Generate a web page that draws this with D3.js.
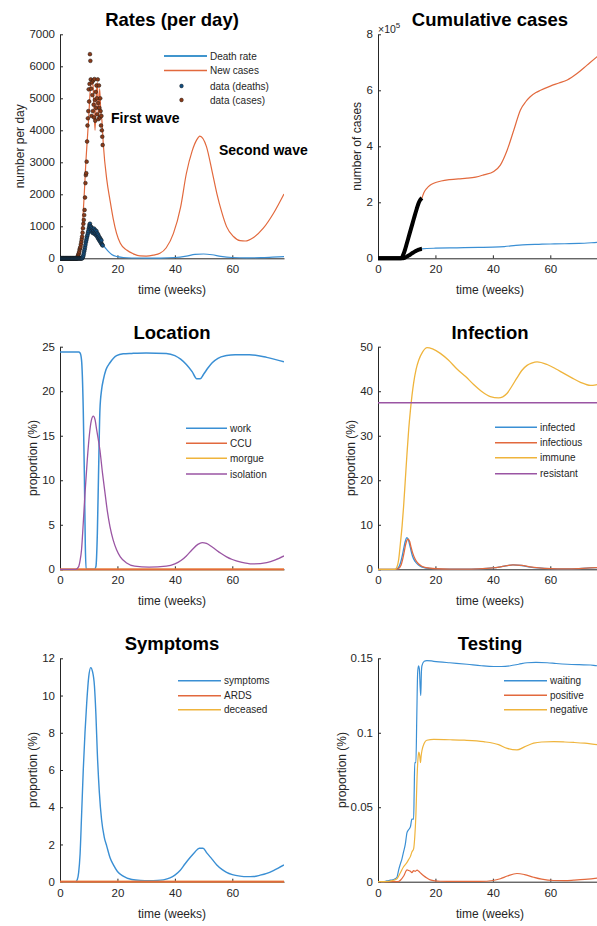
<!DOCTYPE html>
<html>
<head>
<meta charset="utf-8">
<script src="https://cdn.jsdelivr.net/npm/d3@7"></script>
<style>
  body { margin: 0; background: #fff; }
  text { font-family: "Liberation Sans", Arial, Helvetica, sans-serif; }
</style>
</head>
<body>
<script>
// ---- data (x in weeks) ----
var xTicks = [0, 20, 40, 60];

// Rates (per day)
var caseWeeks = [0, 6, 6.5, 7, 7.5, 8, 8.5, 9, 9.5, 10, 10.5, 11, 11.5, 12.2, 12.6, 13, 13.4, 13.8, 14.2, 14.6, 15.1, 16.3, 17.4, 18.5, 19.7, 21, 23.2, 25.5, 27.9, 30, 32.5, 34.8, 37, 39.5, 42, 44, 46, 47.6, 48.7, 51, 53, 54.6, 56.3, 58, 60.4, 62.7, 64.5, 67.4, 70.8, 74.3, 78];
var caseRate  = [0, 0, 80, 300, 700, 1300, 2100, 3000, 3700, 4400, 5200, 5500, 5400, 4000, 5000, 5500, 4400, 5300, 4600, 4300, 3540, 2450, 1820, 1250, 780, 470, 260, 140, 73, 70, 100, 156, 330, 780, 1600, 2650, 3350, 3700, 3820, 3490, 2700, 2030, 1450, 990, 680, 550, 540, 650, 940, 1400, 2010];
var deathWeeks = [0, 7.5, 8, 8.5, 9, 9.5, 10, 10.5, 11, 11.5, 12, 12.5, 13, 13.5, 14, 14.5, 15, 16, 17, 18, 20, 22, 25, 30, 35, 40, 44, 47, 50, 53, 56, 60, 65, 70, 74, 78];
var deathRate  = [0, 0, 100, 300, 500, 650, 750, 800, 820, 780, 800, 720, 760, 650, 600, 500, 420, 300, 200, 120, 50, 25, 10, 5, 8, 25, 70, 120, 135, 110, 60, 25, 15, 20, 35, 52];
// daily data points, day 0 .. 104
var dataDeaths = [0,0,0,0,0,0,0,0,0,0,0,0,0,0,0,0,0,0,0,0,0,0,0,0,0,0,0,0,0,0,0,0,0,0,0,0,0,0,0,0,0,0,0,0,0,0,0,0,0,0,0,0,0,0,0,
  20, 50, 90, 150, 220, 280, 350, 420, 500, 560, 620, 680, 730, 790, 850, 920, 980, 1050, 1080,
  1000, 920, 980, 860, 940, 800, 900, 850, 780, 930, 820, 760, 880, 790, 720, 850, 700, 780, 640, 740, 600, 680, 560, 640, 520, 600, 480, 560, 440, 420, 400];
var dataCases = [0,0,0,0,0,0,0,0,0,0,0,0,0,0,0,0,0,0,0,0,0,0,0,0,0,0,0,0,0,0,0,0,0,0,0,0,0,0,0,0,0,0,0,
  50, 80, 120, 160, 210, 280, 320, 360, 440, 520, 600, 680, 800, 940, 1080, 1200, 1350, 1510, 1900, 2350, 2600, 2660, 3020, 3650, 4150, 4375,
  4600, 5280, 4900, 5450, 6380, 6170, 5590, 5300, 4450, 5500, 5100, 4600, 5560, 4800, 4400, 5600, 4950, 4300, 5200, 4700, 5400, 5000, 4500, 5590, 4850, 4350, 5400, 4700, 4400, 5000, 4600, 4150, 4450, 4000, 3800, 3540];

// Cumulative cases (x 10^5)
var cumCaseWeeks = [15.3, 16, 17, 18, 19.4, 22, 25, 28, 31, 34, 36.8, 40.3, 42.6, 45, 47.3, 49.6, 51.5, 53, 55, 56.6, 60, 63, 65.9, 69.3, 72.8, 76.3, 78];
var cumCases     = [2.15, 2.35, 2.5, 2.6, 2.68, 2.76, 2.81, 2.84, 2.86, 2.9, 2.98, 3.1, 3.33, 3.87, 4.58, 5.3, 5.6, 5.77, 5.92, 6.0, 6.15, 6.26, 6.37, 6.6, 6.9, 7.2, 7.35];
var cumDeathWeeks = [15.3, 17, 20, 25, 30, 35, 40, 44, 48, 52, 56, 60, 65, 70, 76.4, 78];
var cumDeaths     = [0.34, 0.35, 0.36, 0.37, 0.38, 0.39, 0.40, 0.42, 0.46, 0.49, 0.5, 0.51, 0.52, 0.53, 0.57, 0.58];
var cumCaseDataWeeks = [0, 8, 8.5, 9, 9.5, 10, 10.5, 11, 11.5, 12, 12.5, 13, 13.5, 14, 14.5, 15, 15.3];
var cumCaseData      = [0, 0, 0.06, 0.18, 0.34, 0.52, 0.7, 0.88, 1.06, 1.24, 1.42, 1.6, 1.77, 1.93, 2.05, 2.12, 2.15];
var cumDeathDataWeeks = [0, 8.5, 9, 9.5, 10, 10.5, 11, 11.5, 12, 12.5, 13, 13.5, 14, 14.5, 15, 15.3];
var cumDeathData      = [0, 0, 0.01, 0.03, 0.06, 0.09, 0.12, 0.155, 0.19, 0.22, 0.25, 0.28, 0.3, 0.32, 0.335, 0.34];

// Location (%)
var workWeeks = [0, 6.5, 7, 7.5, 8.1, 8.5, 8.8, 9.1, 12, 12.5, 13, 13.4, 13.9, 14.5, 15.1, 16, 17.4, 19.7, 22, 25, 30, 37, 40, 42, 44, 46, 47.6, 48.8, 50, 51.5, 53, 55, 58, 61, 66, 72, 78];
var work      = [24.4, 24.4, 24.3, 23.5, 17.9, 10.4, 2.9, 0, 0, 0.3, 4, 10.4, 17.9, 20.2, 21.3, 22.4, 23.2, 24, 24.2, 24.25, 24.3, 24.25, 24.0, 23.6, 23.0, 22.2, 21.4, 21.4, 21.9, 22.6, 23.2, 23.7, 24.0, 24.1, 24.1, 23.8, 23.3];
var ccuWeeks = [0, 78];
var ccu      = [0, 0];
var morgueWeeks = [0, 78];
var morgue      = [0, 0];
var isoWeeks = [0, 5.5, 6.5, 7, 7.5, 8.1, 8.7, 9.5, 10.2, 10.9, 11.6, 12.2, 12.8, 13.9, 14.8, 15.7, 16.5, 17.4, 18.5, 19.7, 21, 23.2, 26, 31, 37, 40, 42, 44, 46, 48, 49.5, 51, 53, 56, 58, 60, 63, 67, 72, 75, 78];
var iso      = [0, 0, 0.3, 1, 2.2, 5.2, 8.5, 12.3, 15, 16.7, 17.2, 16.8, 15.6, 13.4, 10.8, 8.5, 6.5, 4.8, 3.3, 2.2, 1.4, 0.7, 0.35, 0.25, 0.35, 0.6, 0.95, 1.5, 2.2, 2.8, 3.0, 2.9, 2.5, 1.8, 1.4, 1.1, 0.8, 0.6, 0.75, 1.05, 1.5];

// Infection (%)
var infWeeks = [0, 6, 7, 8, 8.5, 9, 9.5, 10, 10.5, 11, 11.5, 12, 13, 14, 15, 16, 18, 20, 25, 30, 35, 40, 44, 47, 50, 53, 56, 60, 65, 70, 74, 78];
var infected   = [0, 0, 0.3, 1.8, 3.2, 4.8, 6.3, 7.1, 6.8, 5.6, 4.2, 3.0, 1.7, 1.0, 0.6, 0.4, 0.2, 0.1, 0.05, 0.05, 0.1, 0.3, 0.7, 1.0, 0.85, 0.5, 0.3, 0.15, 0.1, 0.15, 0.3, 0.45];
var infectious = [0, 0, 0.1, 0.9, 2.0, 3.5, 5.2, 6.4, 6.8, 6.3, 5.0, 3.8, 2.2, 1.3, 0.8, 0.5, 0.25, 0.12, 0.05, 0.05, 0.1, 0.3, 0.7, 1.0, 0.9, 0.55, 0.33, 0.17, 0.1, 0.15, 0.3, 0.45];
var immuneWeeks = [0, 6, 6.6, 7.2, 7.8, 8.4, 8.9, 9.5, 10.1, 10.7, 11.3, 12.4, 13.3, 14.2, 15.5, 17.1, 19, 21.7, 24.5, 27.5, 30.5, 33.3, 36, 39.1, 42, 44.9, 46.5, 48.4, 50, 51.9, 53.5, 55.4, 58.9, 62, 64.7, 67.5, 70.5, 74, 76.4, 78];
var immune      = [0, 0, 0.5, 2.2, 5.8, 9.8, 14, 20, 26, 31.5, 35.8, 41.8, 45, 47, 48.8, 49.8, 49.5, 48.5, 47, 45, 43.3, 41.5, 40, 38.8, 38.5, 39.5, 41, 43, 44.6, 45.8, 46.3, 46.6, 46, 45, 44, 43, 42, 41.3, 41.5, 41.7];
var resistantWeeks = [0, 78];
var resistant      = [37.4, 37.4];

// Symptoms (%)
var sympWeeks = [0, 5.5, 6, 6.5, 7, 7.5, 8.1, 8.7, 9.3, 10, 10.7, 11.3, 12, 12.5, 13, 13.7, 14.5, 15.4, 16.3, 17.4, 18.6, 20, 22, 25, 28, 31, 34, 36, 38.3, 40, 41.8, 43.5, 45.3, 47, 48.5, 49.8, 51.1, 53, 54.6, 56.5, 58, 60, 62.7, 65, 67.5, 69.7, 72, 74.3, 76, 78];
var symptoms  = [0, 0, 0.1, 0.5, 1.5, 3.5, 6.0, 8.0, 9.6, 11, 11.5, 11.3, 10.5, 9.0, 6.9, 4.8, 3.3, 2.4, 1.9, 1.3, 0.9, 0.55, 0.3, 0.12, 0.07, 0.06, 0.07, 0.1, 0.2, 0.35, 0.6, 0.95, 1.3, 1.6, 1.8, 1.8, 1.55, 1.2, 0.9, 0.65, 0.5, 0.38, 0.3, 0.27, 0.28, 0.35, 0.45, 0.6, 0.73, 0.9];
var ardsWeeks = [0, 78];
var ards      = [0, 0];
var deceasedWeeks = [0, 78];
var deceased      = [0, 0];

// Testing (%)
var waitWeeks = [0, 2, 3, 4.3, 5.5, 6.6, 7.2, 7.8, 8.3, 8.9, 9.5, 10.1, 10.7, 11.3, 11.8, 12.4, 12.6, 12.8, 13.2, 13.5, 13.8, 14.1, 14.4, 14.7, 14.9, 15.1, 15.3, 16.1, 17, 19.4, 25, 31, 36, 40.3, 43, 46.1, 49, 51.9, 55, 58.9, 62, 65.9, 70, 74, 76.4, 78];
var waiting   = [0, 0, 0.0005, 0.001, 0.0015, 0.003, 0.008, 0.012, 0.015, 0.02, 0.025, 0.033, 0.035, 0.037, 0.042, 0.042, 0.06, 0.08, 0.08, 0.11, 0.14, 0.145, 0.143, 0.13, 0.125, 0.14, 0.145, 0.148, 0.1485, 0.148, 0.147, 0.146, 0.145, 0.1445, 0.1445, 0.145, 0.146, 0.147, 0.1472, 0.147, 0.1465, 0.146, 0.1457, 0.1455, 0.145, 0.145];
var posWeeks = [0, 7, 7.8, 9, 10.1, 10.7, 11.3, 11.8, 12.4, 13, 13.6, 14.2, 15, 15.9, 17, 18.2, 20, 21.7, 30, 35.7, 40, 42.6, 45, 48.4, 51, 54.2, 57, 61.2, 65, 68.2, 72, 76.4, 78];
var positive = [0, 0, 0.001, 0.004, 0.008, 0.0075, 0.007, 0.006, 0.0075, 0.007, 0.0078, 0.007, 0.0055, 0.004, 0.0025, 0.0012, 0.0005, 0.0003, 0.0002, 0.0002, 0.0008, 0.002, 0.0038, 0.0055, 0.0048, 0.003, 0.0017, 0.0008, 0.0007, 0.001, 0.0015, 0.0025, 0.003];
var negWeeks = [0, 2, 5.5, 6.6, 7.8, 8.9, 10.1, 10.7, 11.3, 11.8, 12.4, 12.8, 13.2, 13.6, 13.9, 14.2, 14.5, 14.8, 15.0, 15.3, 16.1, 17, 19.4, 25.2, 30, 36.8, 42, 45, 48.4, 51, 54.2, 57, 61.2, 65, 68.2, 72, 76.4, 78];
var negative = [0, 0, 0.001, 0.002, 0.006, 0.01, 0.013, 0.015, 0.017, 0.02, 0.022, 0.03, 0.045, 0.07, 0.082, 0.087, 0.085, 0.08, 0.084, 0.088, 0.093, 0.095, 0.0955, 0.0953, 0.095, 0.094, 0.092, 0.0895, 0.0885, 0.0905, 0.093, 0.0938, 0.094, 0.0938, 0.0935, 0.093, 0.092, 0.0918];

var blue = "#3a8fd4", orange = "#e2693d", yellow = "#efb43c", purple = "#9a55a3";

var svg = d3.select("body").append("svg").attr("width", 597).attr("height", 926);
var axisColor = "#262626";

var cols = [[60, 284], [378, 602]];
var rows = [[34.3, 258.3], [346.7, 569.3], [658.3, 881.7]];

function panel(c, r, o) {
  var x = d3.scaleLinear().domain([0, 78]).range(cols[c]);
  var y = d3.scaleLinear().domain([0, o.ymax]).range([rows[r][1], rows[r][0]]);
  var g = svg.append("g");
  var id = "clip" + c + r;
  svg.append("clipPath").attr("id", id).append("rect")
    .attr("x", cols[c][0]).attr("y", rows[r][0] - 4)
    .attr("width", cols[c][1] - cols[c][0]).attr("height", rows[r][1] - rows[r][0] + 8);

  var ax = g.append("g").attr("transform", "translate(0," + rows[r][1] + ")")
    .call(d3.axisBottom(x).tickValues(xTicks).tickSize(-3).tickSizeOuter(0).tickPadding(7).tickFormat(d3.format("d")));
  var ay = g.append("g").attr("transform", "translate(" + cols[c][0] + ",0)")
    .call(d3.axisLeft(y).tickValues(o.yticks).tickSize(-3).tickSizeOuter(0).tickPadding(5).tickFormat(o.fmt || function(d) { return d; }));
  [ax, ay].forEach(function(a) {
    a.select(".domain").attr("stroke", axisColor);
    a.selectAll(".tick line").attr("stroke", axisColor);
    a.selectAll(".tick text").attr("fill", axisColor).style("font-size", "11.5px").style("font-family", '"Liberation Sans", Arial, sans-serif');
  });

  var cx = (cols[c][0] + cols[c][1]) / 2;
  g.append("text").attr("x", cx).attr("y", rows[r][0] - 8).attr("text-anchor", "middle")
    .style("font-size", "18.5px").style("font-weight", "bold").attr("fill", "#000").text(o.title);
  g.append("text").attr("x", cx).attr("y", rows[r][1] + 36).attr("text-anchor", "middle")
    .style("font-size", "12px").attr("fill", axisColor).text("time (weeks)");
  g.append("text").attr("transform", "translate(" + o.ylabX + "," + ((rows[r][0] + rows[r][1]) / 2) + ") rotate(-90)")
    .attr("text-anchor", "middle").attr("dy", "0.35em")
    .style("font-size", "12px").attr("fill", axisColor).text(o.ylabel);

  var plot = svg.append("g").attr("clip-path", "url(#" + id + ")");
  return { x: x, y: y, g: g, plot: plot };
}

function line(p, xs, ys, color, w) {
  var pts = xs.map(function(d, i) { return [d, ys[i]]; });
  p.plot.append("path").datum(pts)
    .attr("fill", "none").attr("stroke", color).attr("stroke-width", w || 1.3)
    .attr("stroke-linejoin", "round")
    .attr("d", d3.line().x(function(d) { return p.x(d[0]); }).y(function(d) { return p.y(d[1]); }).curve(d3.curveMonotoneX));
}

function legend(x0, x1, ys, items) {
  items.forEach(function(it, i) {
    if (it.marker) {
      svg.append("circle").attr("cx", (x0 + x1) / 2 - 4).attr("cy", ys[i]).attr("r", 1.9)
        .attr("fill", it.color).attr("stroke", "#111").attr("stroke-width", 0.4);
    } else {
      svg.append("line").attr("x1", x0).attr("x2", x1).attr("y1", ys[i]).attr("y2", ys[i])
        .attr("stroke", it.color).attr("stroke-width", 1.5);
    }
    svg.append("text").attr("x", x1 + 3).attr("y", ys[i]).attr("dy", "0.35em")
      .style("font-size", "10px").attr("fill", axisColor).text(it.name);
  });
}

// ---- Rates (per day) ----
var p1 = panel(0, 0, { ymax: 7000, yticks: d3.range(0, 7001, 1000), title: "Rates (per day)", ylabel: "number per day", ylabX: 20 });
line(p1, caseWeeks, caseRate, orange, 1.2);
line(p1, deathWeeks, deathRate, blue, 1.2);
p1.plot.selectAll("circle.dc").data(dataCases).enter().append("circle")
  .attr("cx", function(d, i) { return p1.x(i / 7); }).attr("cy", function(d) { return p1.y(d); })
  .attr("r", 1.9).attr("fill", "#8a3a18").attr("stroke", "#1a1a1a").attr("stroke-width", 0.5);
p1.plot.selectAll("circle.dd").data(dataDeaths).enter().append("circle")
  .attr("cx", function(d, i) { return p1.x(i / 7); }).attr("cy", function(d) { return p1.y(d); })
  .attr("r", 1.9).attr("fill", "#134e7e").attr("stroke", "#1a1a1a").attr("stroke-width", 0.5);
svg.append("text").attr("x", 111).attr("y", 123).style("font-size", "14px").style("font-weight", "bold").text("First wave");
svg.append("text").attr("x", 219).attr("y", 155).style("font-size", "14px").style("font-weight", "bold").text("Second wave");
legend(164, 207, [56, 70.5, 86, 100], [
  { name: "Death rate", color: "#0072BD" },
  { name: "New cases", color: orange },
  { name: "data (deaths)", color: "#134e7e", marker: true },
  { name: "data (cases)", color: "#8a3a18", marker: true }
]);

// ---- Cumulative cases ----
var p2 = panel(1, 0, { ymax: 8, yticks: [0, 2, 4, 6, 8], title: "Cumulative cases", ylabel: "number of cases", ylabX: 357 });
line(p2, cumCaseWeeks, cumCases, orange, 1.2);
line(p2, cumDeathWeeks, cumDeaths, blue, 1.2);
line(p2, cumCaseDataWeeks, cumCaseData, "#000", 4);
line(p2, cumDeathDataWeeks, cumDeathData, "#000", 4);
var expo = svg.append("text").attr("x", 378).attr("y", 33).style("font-size", "10.5px").attr("fill", axisColor);
expo.append("tspan").text("\u00d710");
expo.append("tspan").attr("dy", -5).style("font-size", "8px").text("5");

// ---- Location ----
var p3 = panel(0, 1, { ymax: 25, yticks: [0, 5, 10, 15, 20, 25], title: "Location", ylabel: "proportion (%)", ylabX: 33 });
line(p3, workWeeks, work, blue, 1.5);
line(p3, morgueWeeks, morgue, yellow, 1.8);
line(p3, ccuWeeks, ccu, orange, 1.8);
line(p3, isoWeeks, iso, purple, 1.3);
legend(186, 227, [428.3, 443.3, 458.3, 474], [
  { name: "work", color: blue }, { name: "CCU", color: orange },
  { name: "morgue", color: yellow }, { name: "isolation", color: purple }
]);

// ---- Infection ----
var p4 = panel(1, 1, { ymax: 50, yticks: [0, 10, 20, 30, 40, 50], title: "Infection", ylabel: "proportion (%)", ylabX: 351 });
line(p4, infWeeks, infected, blue, 1.3);
line(p4, infWeeks, infectious, orange, 1.3);
line(p4, immuneWeeks, immune, yellow, 1.3);
line(p4, resistantWeeks, resistant, purple, 1.5);
legend(495, 537, [427.3, 442.7, 457.7, 473.7], [
  { name: "infected", color: blue }, { name: "infectious", color: orange },
  { name: "immune", color: yellow }, { name: "resistant", color: purple }
]);

// ---- Symptoms ----
var p5 = panel(0, 2, { ymax: 12, yticks: [0, 2, 4, 6, 8, 10, 12], title: "Symptoms", ylabel: "proportion (%)", ylabX: 33 });
line(p5, sympWeeks, symptoms, blue, 1.4);
line(p5, deceasedWeeks, deceased, yellow, 1.8);
line(p5, ardsWeeks, ards, orange, 1.8);
legend(178, 221, [680.7, 695.7, 709.7], [
  { name: "symptoms", color: blue }, { name: "ARDS", color: orange }, { name: "deceased", color: yellow }
]);

// ---- Testing ----
var p6 = panel(1, 2, { ymax: 0.15, yticks: [0, 0.05, 0.1, 0.15], title: "Testing", ylabel: "proportion (%)", ylabX: 342 });
line(p6, waitWeeks, waiting, blue, 1.2);
line(p6, posWeeks, positive, orange, 1.2);
line(p6, negWeeks, negative, yellow, 1.2);
legend(504, 547, [680.7, 695.3, 709.7], [
  { name: "waiting", color: blue }, { name: "positive", color: orange }, { name: "negative", color: yellow }
]);
</script>
</body>
</html>
